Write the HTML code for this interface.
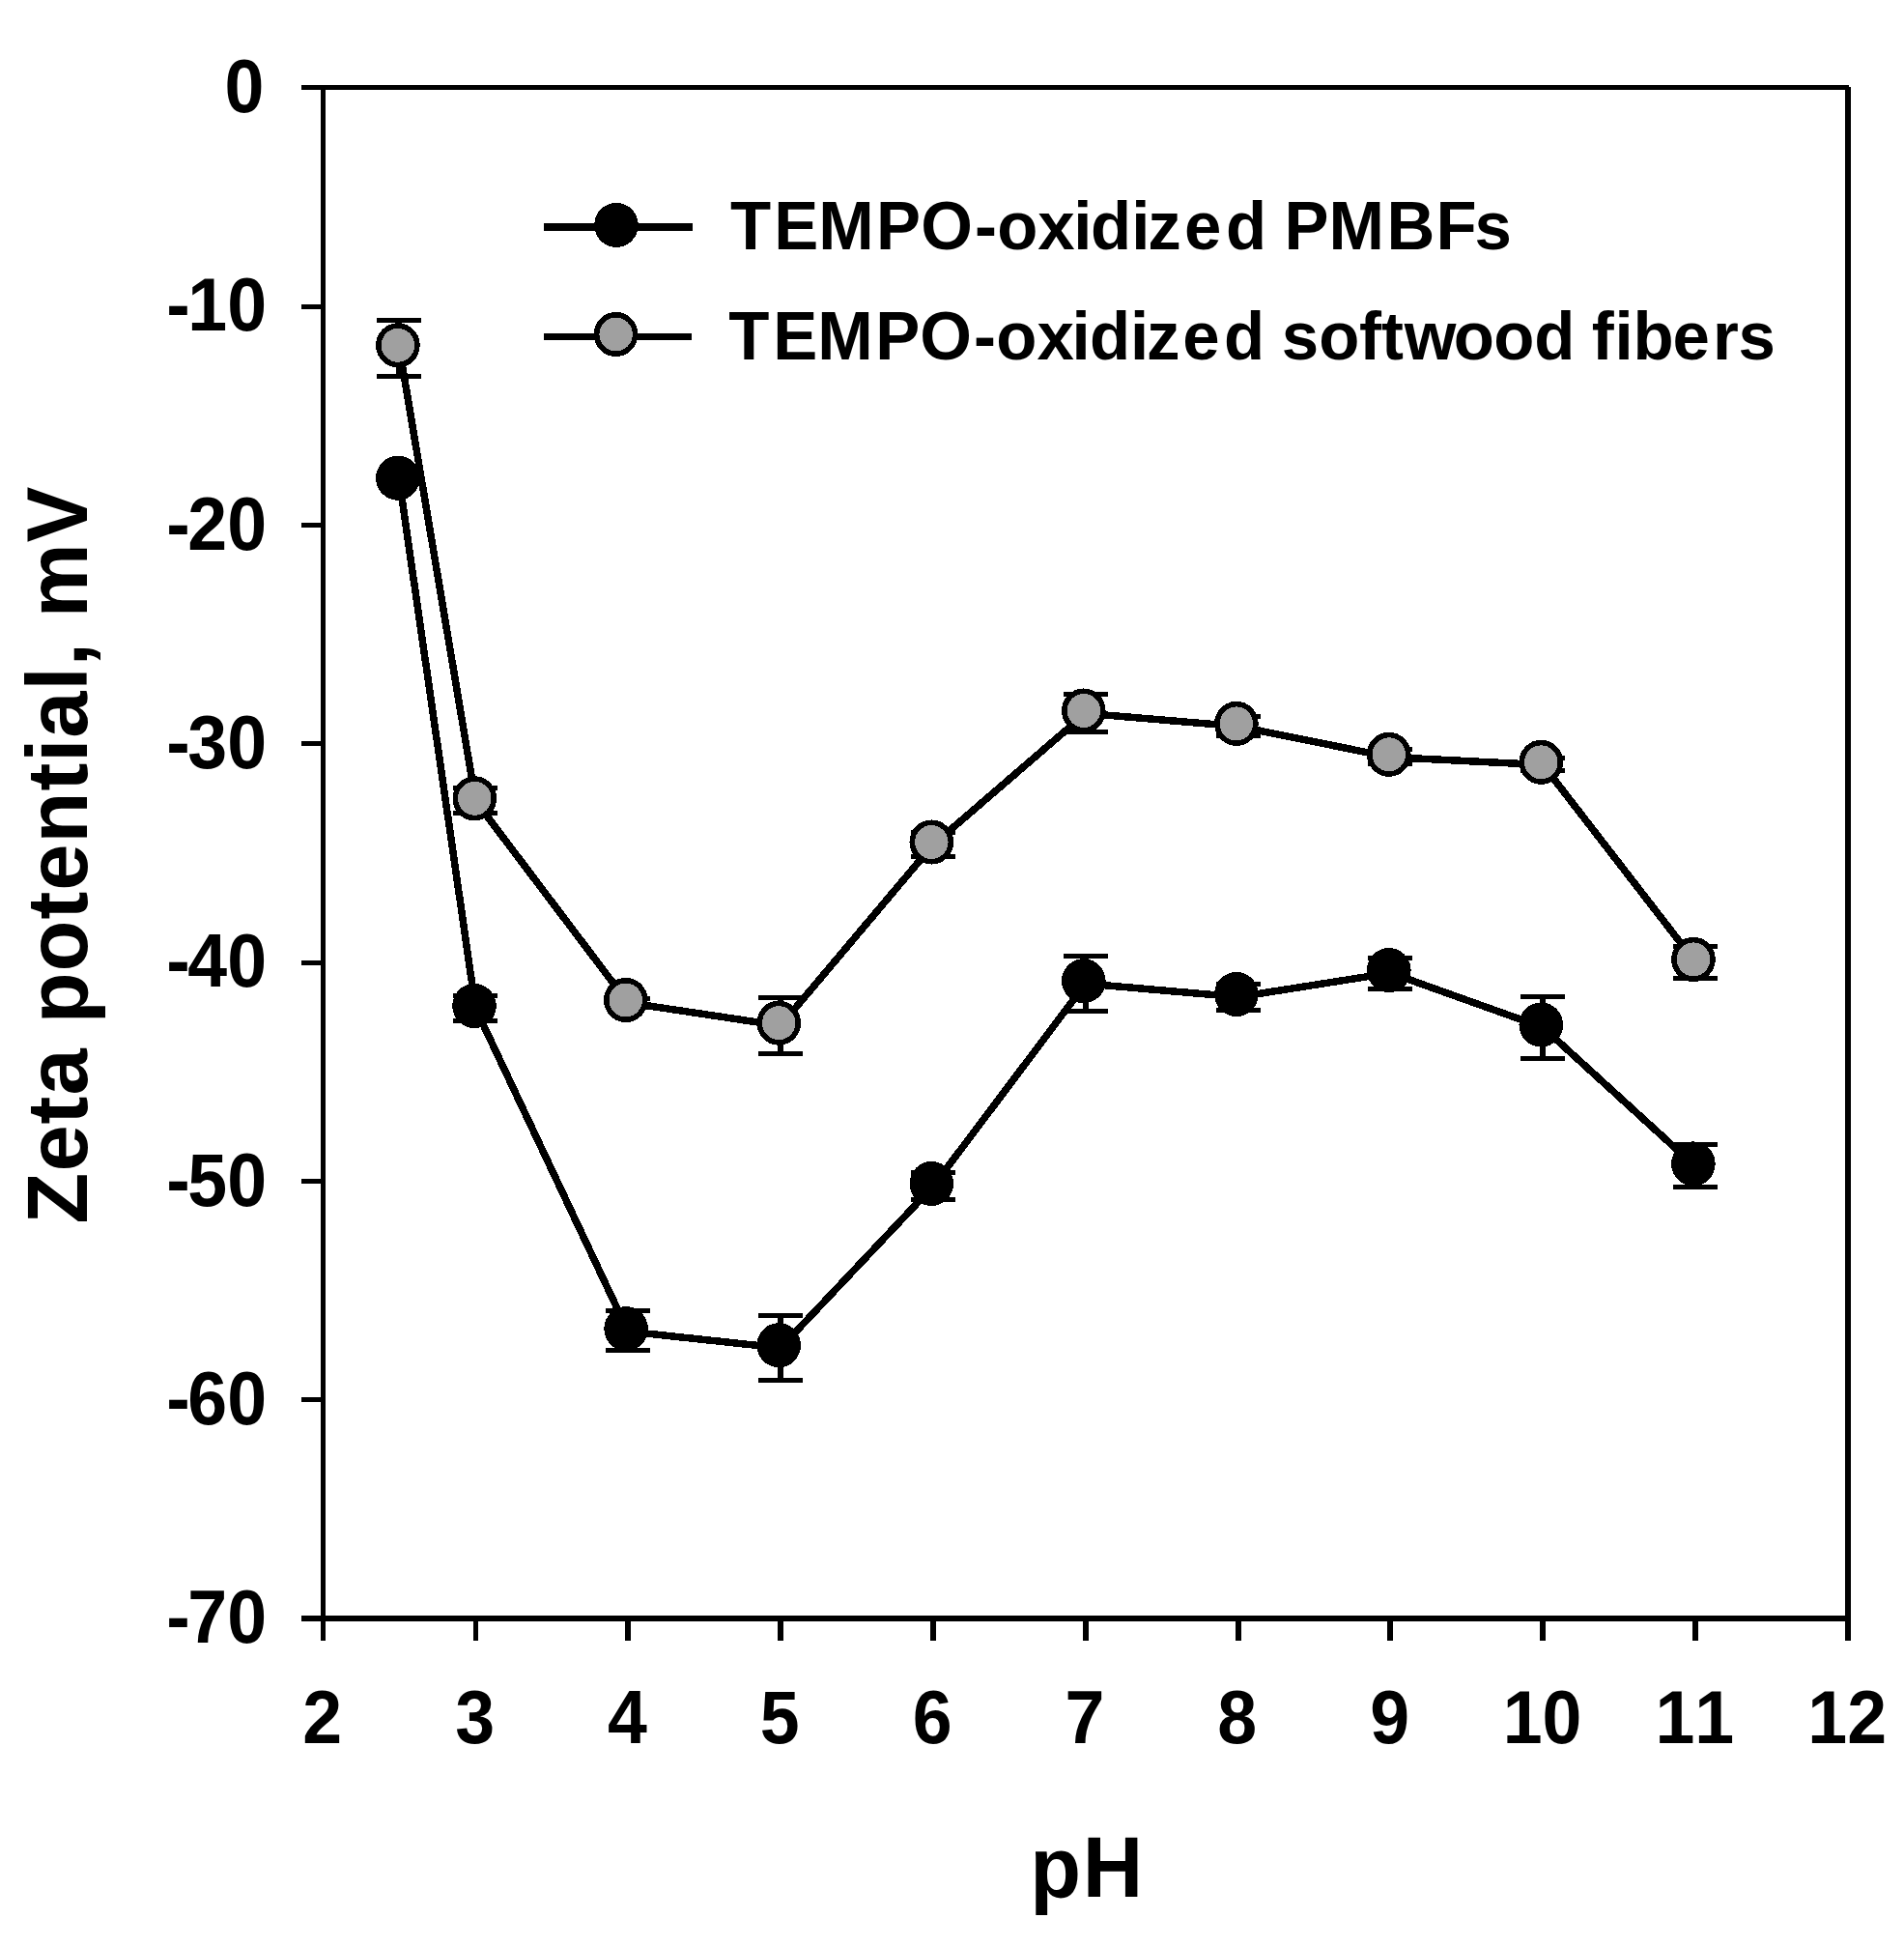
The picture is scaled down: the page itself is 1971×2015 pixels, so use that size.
<!DOCTYPE html>
<html lang="en">
<head>
<meta charset="utf-8">
<title>Zeta potential vs pH</title>
<style>
html,body{margin:0;padding:0;background:#fff;}
body{width:1971px;height:2015px;overflow:hidden;}
svg{display:block;}
text{font-kerning:none;font-variant-ligatures:none;font-family:"Liberation Sans",Arial,Helvetica,sans-serif;font-weight:bold;fill:#000;}
</style>
</head>
<body>
<svg width="1971" height="2015" viewBox="0 0 1971 2015">
<rect x="0" y="0" width="1971" height="2015" fill="#fff"/>
<g id="frame" shape-rendering="crispEdges">
<rect x="312.00" y="88.00" width="1602.00" height="5.00" fill="#000"/>
<rect x="332.00" y="88.00" width="5.00" height="1610.00" fill="#000"/>
<rect x="312.00" y="1672.00" width="1604.00" height="6.00" fill="#000"/>
<rect x="1910.00" y="89.50" width="6.00" height="1608.50" fill="#000"/>
<rect x="312.00" y="315.00" width="21.00" height="5.00" fill="#000"/>
<rect x="312.00" y="541.00" width="21.00" height="5.00" fill="#000"/>
<rect x="312.00" y="767.00" width="21.00" height="5.00" fill="#000"/>
<rect x="312.00" y="994.00" width="21.00" height="5.00" fill="#000"/>
<rect x="312.00" y="1220.00" width="21.00" height="5.00" fill="#000"/>
<rect x="312.00" y="1446.00" width="21.00" height="5.00" fill="#000"/>
<rect x="490.00" y="1677.00" width="5.00" height="21.00" fill="#000"/>
<rect x="647.00" y="1677.00" width="6.00" height="21.00" fill="#000"/>
<rect x="805.00" y="1677.00" width="6.00" height="21.00" fill="#000"/>
<rect x="963.00" y="1677.00" width="6.00" height="21.00" fill="#000"/>
<rect x="1121.00" y="1677.00" width="6.00" height="21.00" fill="#000"/>
<rect x="1279.00" y="1677.00" width="6.00" height="21.00" fill="#000"/>
<rect x="1436.00" y="1677.00" width="6.00" height="21.00" fill="#000"/>
<rect x="1594.00" y="1677.00" width="6.00" height="21.00" fill="#000"/>
<rect x="1752.00" y="1677.00" width="6.00" height="21.00" fill="#000"/>
</g>
<g id="ylabels" font-size="73.5" text-anchor="end">
<text transform="translate(273.5 115.8) scale(1 1.055)">0</text>
<text transform="translate(273.5 342.2) scale(1 1.055)" dx="2.5 -2.5 0">-10</text>
<text transform="translate(273.5 568.5) scale(1 1.055)" dx="2.5 -2.5 0">-20</text>
<text transform="translate(273.5 794.9) scale(1 1.055)" dx="2.5 -2.5 0">-30</text>
<text transform="translate(273.5 1021.2) scale(1 1.055)" dx="2.5 -2.5 0">-40</text>
<text transform="translate(273.5 1247.6) scale(1 1.055)" dx="2.5 -2.5 0">-50</text>
<text transform="translate(273.5 1474.0) scale(1 1.055)" dx="2.5 -2.5 0">-60</text>
<text transform="translate(273.5 1700.3) scale(1 1.055)" dx="2.5 -2.5 0">-70</text>
</g>
<g id="xlabels" font-size="73.5" text-anchor="middle">
<text transform="translate(333.7 1804) scale(1 1.055)">2</text>
<text transform="translate(491.6 1804) scale(1 1.055)">3</text>
<text transform="translate(649.4 1804) scale(1 1.055)">4</text>
<text transform="translate(807.2 1804) scale(1 1.055)">5</text>
<text transform="translate(965.1 1804) scale(1 1.055)">6</text>
<text transform="translate(1123.0 1804) scale(1 1.055)">7</text>
<text transform="translate(1280.8 1804) scale(1 1.055)">8</text>
<text transform="translate(1438.7 1804) scale(1 1.055)">9</text>
<text transform="translate(1596.5 1804) scale(1 1.055)">10</text>
<text transform="translate(1754.3 1804) scale(1 1.055)">11</text>
<text transform="translate(1912.2 1804) scale(1 1.055)">12</text>
</g>
<text id="ytitle" font-size="86.5" transform="translate(90 1266.5) rotate(-90) scale(1 1.025)" textLength="763" lengthAdjust="spacing">Zeta potential, mV</text>
<text id="xtitle" font-size="86.5" transform="translate(1066.2 1963) scale(1 1.025)" textLength="117" lengthAdjust="spacing">pH</text>
<g id="series-pmbf" shape-rendering="crispEdges">
<g class="eb" shape-rendering="crispEdges">
<rect x="410.43" y="494.00" width="6.00" height="6.00" fill="#000"/>
<rect x="390.43" y="491.50" width="46.00" height="5.00" fill="#000"/>
<rect x="390.43" y="497.50" width="46.00" height="5.00" fill="#000"/>
<rect x="489.35" y="1030.50" width="6.00" height="26.20" fill="#000"/>
<rect x="469.35" y="1028.00" width="46.00" height="5.00" fill="#000"/>
<rect x="469.35" y="1054.20" width="46.00" height="5.00" fill="#000"/>
<rect x="647.20" y="1356.10" width="6.00" height="41.50" fill="#000"/>
<rect x="627.20" y="1353.60" width="46.00" height="5.00" fill="#000"/>
<rect x="627.20" y="1395.10" width="46.00" height="5.00" fill="#000"/>
<rect x="805.05" y="1361.40" width="6.00" height="67.50" fill="#000"/>
<rect x="785.05" y="1358.90" width="46.00" height="5.00" fill="#000"/>
<rect x="785.05" y="1426.40" width="46.00" height="5.00" fill="#000"/>
<rect x="962.90" y="1213.80" width="6.00" height="28.10" fill="#000"/>
<rect x="942.90" y="1211.30" width="46.00" height="5.00" fill="#000"/>
<rect x="942.90" y="1239.40" width="46.00" height="5.00" fill="#000"/>
<rect x="1120.75" y="989.60" width="6.00" height="57.20" fill="#000"/>
<rect x="1100.75" y="987.10" width="46.00" height="5.00" fill="#000"/>
<rect x="1100.75" y="1044.30" width="46.00" height="5.00" fill="#000"/>
<rect x="1278.60" y="1018.50" width="6.00" height="27.00" fill="#000"/>
<rect x="1258.60" y="1016.00" width="46.00" height="5.00" fill="#000"/>
<rect x="1258.60" y="1043.00" width="46.00" height="5.00" fill="#000"/>
<rect x="1436.45" y="991.40" width="6.00" height="32.30" fill="#000"/>
<rect x="1416.45" y="988.90" width="46.00" height="5.00" fill="#000"/>
<rect x="1416.45" y="1021.20" width="46.00" height="5.00" fill="#000"/>
<rect x="1594.30" y="1031.50" width="6.00" height="64.00" fill="#000"/>
<rect x="1574.30" y="1029.00" width="46.00" height="5.00" fill="#000"/>
<rect x="1574.30" y="1093.00" width="46.00" height="5.00" fill="#000"/>
<rect x="1752.15" y="1184.20" width="6.00" height="44.60" fill="#000"/>
<rect x="1732.15" y="1181.70" width="46.00" height="5.00" fill="#000"/>
<rect x="1732.15" y="1226.30" width="46.00" height="5.00" fill="#000"/>
</g>
<polyline fill="none" stroke="#000" stroke-width="7.5" stroke-linejoin="round" points="413.4,497.5 492.4,1043.8 650.2,1378.0 808.0,1395.0 965.9,1227.8 1123.8,1018.0 1281.6,1031.8 1439.5,1006.9 1597.3,1063.3 1755.1,1207.2"/>
<ellipse cx="411.9" cy="494.7" rx="22.80" ry="23.05" fill="#000"/>
<ellipse cx="491.0" cy="1041.0" rx="22.80" ry="23.05" fill="#000"/>
<ellipse cx="648.1" cy="1375.2" rx="22.80" ry="23.05" fill="#000"/>
<ellipse cx="806.2" cy="1392.2" rx="22.80" ry="23.05" fill="#000"/>
<ellipse cx="964.3" cy="1225.0" rx="22.80" ry="23.05" fill="#000"/>
<ellipse cx="1121.8" cy="1015.2" rx="22.80" ry="23.05" fill="#000"/>
<ellipse cx="1279.9" cy="1029.0" rx="22.80" ry="23.05" fill="#000"/>
<ellipse cx="1437.8" cy="1004.1" rx="22.80" ry="23.05" fill="#000"/>
<ellipse cx="1595.3" cy="1060.5" rx="22.80" ry="23.05" fill="#000"/>
<ellipse cx="1752.9" cy="1204.4" rx="22.80" ry="23.05" fill="#000"/>
</g>
<g id="series-softwood" shape-rendering="crispEdges">
<g class="eb" shape-rendering="crispEdges">
<rect x="410.43" y="331.50" width="6.00" height="57.50" fill="#000"/>
<rect x="390.43" y="329.00" width="46.00" height="5.00" fill="#000"/>
<rect x="390.43" y="386.50" width="46.00" height="5.00" fill="#000"/>
<rect x="489.35" y="815.90" width="6.00" height="25.50" fill="#000"/>
<rect x="469.35" y="813.40" width="46.00" height="5.00" fill="#000"/>
<rect x="469.35" y="838.90" width="46.00" height="5.00" fill="#000"/>
<rect x="647.20" y="1033.00" width="6.00" height="9.60" fill="#000"/>
<rect x="627.20" y="1030.50" width="46.00" height="5.00" fill="#000"/>
<rect x="627.20" y="1040.10" width="46.00" height="5.00" fill="#000"/>
<rect x="805.05" y="1032.30" width="6.00" height="57.80" fill="#000"/>
<rect x="785.05" y="1029.80" width="46.00" height="5.00" fill="#000"/>
<rect x="785.05" y="1087.60" width="46.00" height="5.00" fill="#000"/>
<rect x="962.90" y="861.70" width="6.00" height="24.70" fill="#000"/>
<rect x="942.90" y="859.20" width="46.00" height="5.00" fill="#000"/>
<rect x="942.90" y="883.90" width="46.00" height="5.00" fill="#000"/>
<rect x="1120.75" y="718.30" width="6.00" height="39.40" fill="#000"/>
<rect x="1100.75" y="715.80" width="46.00" height="5.00" fill="#000"/>
<rect x="1100.75" y="755.20" width="46.00" height="5.00" fill="#000"/>
<rect x="1278.60" y="741.90" width="6.00" height="19.20" fill="#000"/>
<rect x="1258.60" y="739.40" width="46.00" height="5.00" fill="#000"/>
<rect x="1258.60" y="758.60" width="46.00" height="5.00" fill="#000"/>
<rect x="1436.45" y="775.50" width="6.00" height="15.00" fill="#000"/>
<rect x="1416.45" y="773.00" width="46.00" height="5.00" fill="#000"/>
<rect x="1416.45" y="788.00" width="46.00" height="5.00" fill="#000"/>
<rect x="1594.30" y="784.70" width="6.00" height="12.40" fill="#000"/>
<rect x="1574.30" y="782.20" width="46.00" height="5.00" fill="#000"/>
<rect x="1574.30" y="794.60" width="46.00" height="5.00" fill="#000"/>
<rect x="1752.15" y="979.90" width="6.00" height="32.50" fill="#000"/>
<rect x="1732.15" y="977.40" width="46.00" height="5.00" fill="#000"/>
<rect x="1732.15" y="1009.90" width="46.00" height="5.00" fill="#000"/>
</g>
<polyline fill="none" stroke="#000" stroke-width="7.5" stroke-linejoin="round" points="413.4,360.1 492.4,829.1 650.2,1037.8 808.0,1061.5 965.9,874.3 1123.8,738.3 1281.6,751.7 1439.5,783.6 1597.3,791.6 1755.1,995.7"/>
<ellipse cx="411.9" cy="357.3" rx="20.00" ry="20.25" fill="#a0a0a0" stroke="#000" stroke-width="5.6"/>
<ellipse cx="491.3" cy="826.3" rx="20.00" ry="20.25" fill="#a0a0a0" stroke="#000" stroke-width="5.6"/>
<ellipse cx="647.8" cy="1035.0" rx="20.00" ry="20.25" fill="#a0a0a0" stroke="#000" stroke-width="5.6"/>
<ellipse cx="806.2" cy="1058.7" rx="20.00" ry="20.25" fill="#a0a0a0" stroke="#000" stroke-width="5.6"/>
<ellipse cx="964.3" cy="871.5" rx="20.00" ry="20.25" fill="#a0a0a0" stroke="#000" stroke-width="5.6"/>
<ellipse cx="1121.8" cy="735.5" rx="20.00" ry="20.25" fill="#a0a0a0" stroke="#000" stroke-width="5.6"/>
<ellipse cx="1279.9" cy="748.9" rx="20.00" ry="20.25" fill="#a0a0a0" stroke="#000" stroke-width="5.6"/>
<ellipse cx="1437.8" cy="780.8" rx="20.00" ry="20.25" fill="#a0a0a0" stroke="#000" stroke-width="5.6"/>
<ellipse cx="1595.3" cy="788.8" rx="20.00" ry="20.25" fill="#a0a0a0" stroke="#000" stroke-width="5.6"/>
<ellipse cx="1753.0" cy="992.9" rx="20.00" ry="20.25" fill="#a0a0a0" stroke="#000" stroke-width="5.6"/>
</g>
<g id="legend" shape-rendering="crispEdges">
<rect x="563" y="231" width="154" height="8" fill="#000"/>
<ellipse cx="638.0" cy="232.9" rx="22.80" ry="23.05" fill="#000"/>
<rect x="563" y="345" width="153" height="7" fill="#000"/>
<ellipse cx="637.6" cy="346.0" rx="20.00" ry="20.25" fill="#a0a0a0" stroke="#000" stroke-width="5.6"/>
<text font-size="69.0" transform="translate(756.1 258.2) scale(1 1.025)" x="0.0 45.2 91.2 151.0 197.2 253.0 276.2 318.2 355.2 373.0 415.1 432.1 470.0 513.0 555.2 573.4 619.4 679.4 730.4 770.4">TEMPO-oxidized PMBFs</text>
<text font-size="69.0" transform="translate(754.2 371.9) scale(1 1.020)" x="0.0 46.1 92.0 152.1 198.0 253.9 277.0 319.3 355.2 373.7 415.9 432.9 470.0 512.9 555.1 572.6 611.0 652.7 675.9 699.5 750.5 792.0 834.0 876.2 893.5 917.3 936.2 977.4 1018.7 1045.4">TEMPO-oxidized softwood fibers</text>
</g>
</svg>
</body>
</html>
